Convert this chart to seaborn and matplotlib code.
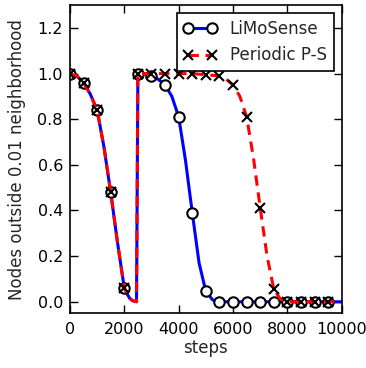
import matplotlib
matplotlib.use("Agg")
import matplotlib.pyplot as plt
from matplotlib.colors import same_color
import seaborn as sns
import pandas as pd

# values
steps_limo = [0, 250, 500, 750, 1000, 1250, 1500, 1750, 2000, 2100, 2200, 2300, 2450,
              2500, 2750, 3000, 3250, 3500, 3750, 4000, 4250, 4500, 4750, 5000, 5250,
              5500, 6000, 6500, 7000, 7500, 8000, 8500, 9000, 9500, 10000]
limo = [1.0, 0.99, 0.96, 0.91, 0.84, 0.68, 0.48, 0.26, 0.06, 0.035, 0.015, 0.005, 0.0,
        1.0, 1.0, 0.99, 0.975, 0.95, 0.9, 0.81, 0.62, 0.39, 0.17, 0.045, 0.008,
        0.0, 0.0, 0.0, 0.0, 0.0, 0.0, 0.0, 0.0, 0.0, 0.0]

steps_ps = [0, 250, 500, 750, 1000, 1250, 1500, 1750, 2000, 2100, 2200, 2300, 2450,
            2500, 3000, 3500, 4000, 4500, 5000, 5500, 5750, 6000, 6250, 6500, 6750,
            7000, 7250, 7500, 7750, 8000, 8500, 9000, 9500, 10000]
periodic = [1.0, 0.99, 0.96, 0.91, 0.84, 0.68, 0.48, 0.26, 0.06, 0.035, 0.015, 0.005, 0.0,
            1.0, 1.0, 1.0, 1.0, 1.0, 0.995, 0.99, 0.975, 0.95, 0.9, 0.81, 0.63,
            0.41, 0.2, 0.055, 0.01, 0.0, 0.0, 0.0, 0.0, 0.0]

limo_df = pd.DataFrame({"steps": steps_limo, "value": limo})
ps_df = pd.DataFrame({"steps": steps_ps, "value": periodic})

sns.set_theme(style="ticks")
plt.rcParams["font.family"] = ["DejaVu Sans"]
plt.rcParams["font.size"] = 12
plt.rcParams["xtick.direction"] = "in"
plt.rcParams["ytick.direction"] = "in"

fig = plt.figure(figsize=(3.66, 3.68), dpi=100)
ax = fig.add_axes([0.191, 0.149, 0.743, 0.837])

# markers only every 500 steps
limo_marks = [i for i, s in enumerate(steps_limo) if s % 500 == 0 and s < 10000]
ps_marks = [i for i, s in enumerate(steps_ps) if s % 500 == 0 and s < 10000]

sns.lineplot(data=limo_df, x="steps", y="value", ax=ax, color="blue", lw=2.2,
             sort=False, estimator=None, marker="o", markersize=7.5,
             markerfacecolor="white", markeredgecolor="black", markeredgewidth=1.5,
             markevery=limo_marks, label="LiMoSense")
sns.lineplot(data=ps_df, x="steps", y="value", ax=ax, color="red", lw=2.2,
             sort=False, estimator=None, marker="x", markersize=7.5,
             markeredgecolor="black", markeredgewidth=1.5,
             markevery=ps_marks, label="Periodic P-S")
# dashed red line on top of the blue one
for line in ax.get_lines():
    if same_color(line.get_color(), "red"):
        line.set_linestyle((0, (3.4, 2.2)))

ax.set_xlim(0, 10000)
ax.set_ylim(-0.05, 1.3)
ax.set_xticks([0, 2000, 4000, 6000, 8000, 10000])
ax.set_yticks([0.0, 0.2, 0.4, 0.6, 0.8, 1.0, 1.2])
ax.tick_params(axis="both", which="major", labelsize=11.5, length=6, width=1,
               top=True, right=True, color="black", labelcolor="black")
ax.tick_params(axis="x", pad=6.5)
ax.tick_params(axis="y", pad=5)
for sp in ax.spines.values():
    sp.set_visible(True)
    sp.set_linewidth(1.2)
    sp.set_color("black")

ax.set_xlabel("steps", fontsize=12, labelpad=1)
ax.set_ylabel("Nodes outside 0.01 neighborhood", fontsize=12, labelpad=8)

leg = ax.legend(loc="upper right", numpoints=2, fontsize=12, frameon=True,
                fancybox=False, borderaxespad=0.5, handlelength=2.0)
leg.get_frame().set_edgecolor("black")
leg.get_frame().set_linewidth(1.2)
leg.get_frame().set_alpha(1)

fig.savefig("out.png", dpi=100)
